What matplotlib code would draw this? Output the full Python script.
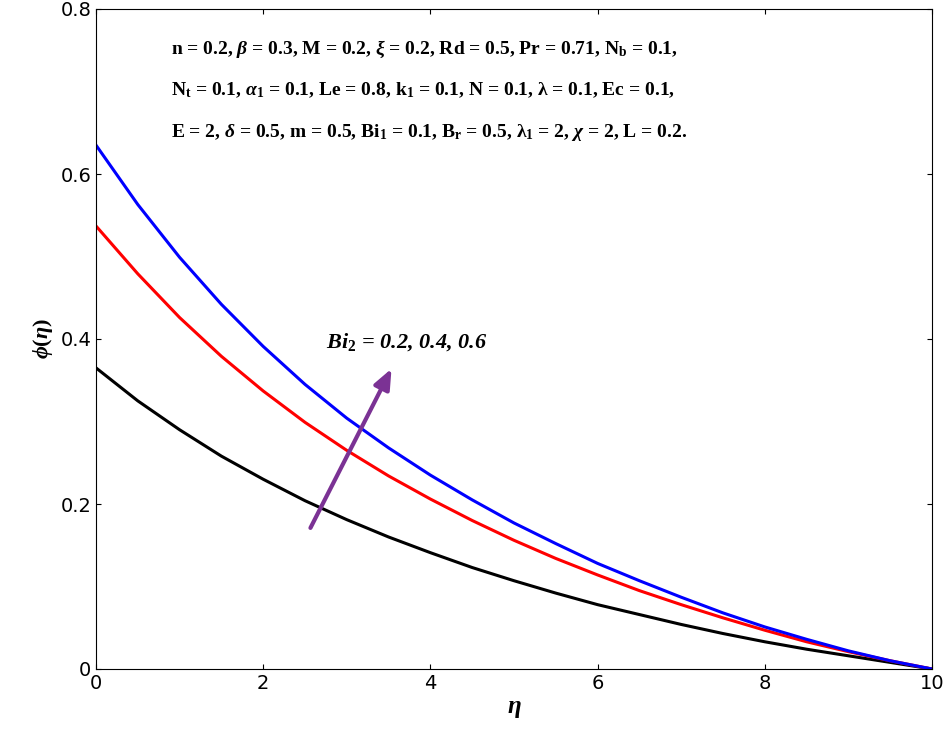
import matplotlib
matplotlib.use("Agg")
import matplotlib.pyplot as plt
plt.rcParams["mathtext.fontset"] = "custom"
plt.rcParams["mathtext.rm"] = "Liberation Serif"
plt.rcParams["mathtext.it"] = "Liberation Serif:italic"
plt.rcParams["mathtext.bf"] = "Liberation Serif:bold"
plt.rcParams["mathtext.bfit"] = "Liberation Serif:italic:bold"

eta = [0,0.5,1,1.5,2,2.5,3,3.5,4,4.5,5,5.5,6,6.5,7,7.5,8,8.5,9,9.5,10]
phi_02 = [0.365,0.325,0.290,0.258,0.230,0.204,0.181,0.160,0.141,0.123,0.107,0.092,0.078,0.066,0.054,0.043,0.033,0.024,0.016,0.008,0.0]
phi_04 = [0.537,0.479,0.426,0.379,0.337,0.299,0.265,0.234,0.206,0.180,0.156,0.134,0.114,0.095,0.078,0.062,0.047,0.033,0.021,0.010,0.0]
phi_06 = [0.635,0.563,0.499,0.442,0.391,0.345,0.304,0.268,0.235,0.205,0.177,0.152,0.128,0.107,0.087,0.068,0.051,0.036,0.022,0.010,0.0]
series = [(phi_02,"black"),(phi_04,"red"),(phi_06,"blue")]
xticks = [0,2,4,6,8,10]
yticks = [0,0.2,0.4,0.6,0.8]
ylabels = ["0","0.2","0.4","0.6","0.8"]

fig = plt.figure(figsize=(9.44,7.41), dpi=100)
ax = fig.add_axes([96/944, 72/741, 836/944, 660/741])
for y,c in series:
    ax.plot(eta, y, color=c, lw=2.2)
ax.set_xlim(0,10); ax.set_ylim(0,0.8)
ax.set_xticks(xticks); ax.set_yticks(yticks); ax.set_yticklabels(ylabels)
ax.tick_params(direction="in", labelsize=14, top=True, right=True)
ax.set_xlabel(r"$\boldsymbol{\eta}$", fontsize=18, labelpad=2)
ax.set_ylabel(r"$\boldsymbol{\phi(\eta)}$", fontsize=16)
ax.annotate("", xy=(3.55,0.367), xytext=(2.55,0.168),
            arrowprops=dict(arrowstyle="-|>,head_width=0.5,head_length=1.2", color="#7B3294", lw=3))
ax.text(2.75,0.39, r"Bi$_\mathbf{2}$ = 0.2, 0.4, 0.6", fontsize=16, family="Liberation Serif",
        style="italic", weight="bold")
lines = [r"n = 0.2, $\boldsymbol{\beta}$ = 0.3, M = 0.2, $\boldsymbol{\xi}$ = 0.2, Rd = 0.5, Pr = 0.71, N$_\mathbf{b}$ = 0.1,",
         r"N$_\mathbf{t}$ = 0.1, $\boldsymbol{\alpha}_\mathbf{1}$ = 0.1, Le = 0.8, k$_\mathbf{1}$ = 0.1, N = 0.1, $\boldsymbol{\lambda}$ = 0.1, Ec = 0.1,",
         r"E = 2, $\boldsymbol{\delta}$ = 0.5, m = 0.5, Bi$_\mathbf{1}$ = 0.1, B$_\mathbf{r}$ = 0.5, $\boldsymbol{\lambda}_\mathbf{1}$ = 2, $\boldsymbol{\chi}$ = 2, L = 0.2."]
for i,t in enumerate(lines):
    ax.text(0.09, 0.955-i*0.063, t, transform=ax.transAxes, fontsize=14, weight="bold",
            va="top", family="Liberation Serif")
fig.savefig("out.png", dpi=100)
